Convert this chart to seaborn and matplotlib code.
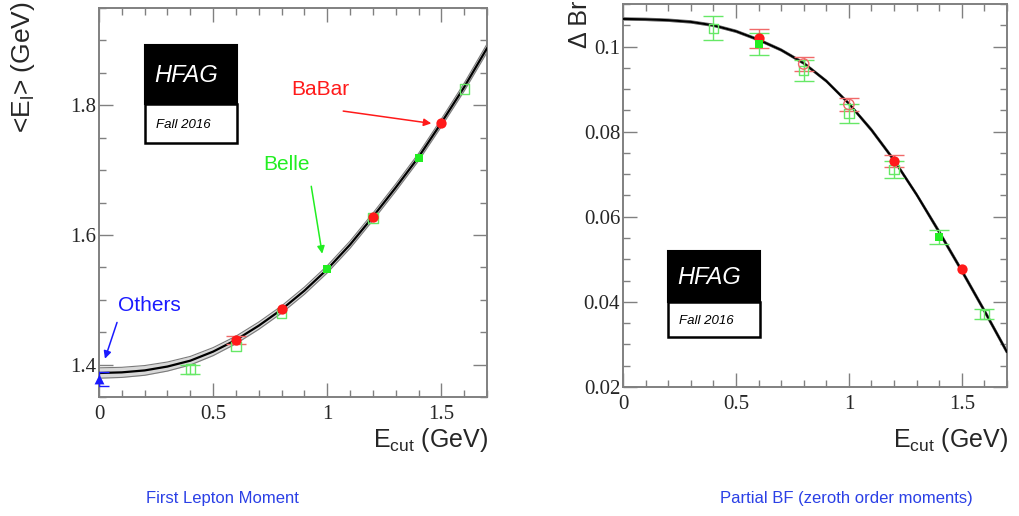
import matplotlib
matplotlib.use("Agg")
import matplotlib.pyplot as plt
from matplotlib.ticker import MultipleLocator, FormatStrFormatter
from matplotlib.patches import Rectangle
import seaborn as sns

# --- data: first lepton moment <E_l> vs E_cut ---
ecut_fit = [0.0, 0.1, 0.2, 0.3, 0.4, 0.5, 0.6, 0.7, 0.8, 0.9,
            1.0, 1.1, 1.2, 1.3, 1.4, 1.5, 1.6, 1.7]
e1_fit = [1.387, 1.388, 1.391, 1.397, 1.406, 1.420, 1.438, 1.460, 1.485, 1.514,
          1.547, 1.585, 1.628, 1.673, 1.720, 1.773, 1.828, 1.888]
e1_band = [0.0080, 0.0078, 0.0075, 0.0070, 0.0066, 0.0062, 0.0058, 0.0056, 0.0055, 0.0055,
           0.0055, 0.0055, 0.0055, 0.0055, 0.0056, 0.0058, 0.0060, 0.0064]

babar_e1_x = [0.6, 0.8, 1.2, 1.5]
babar_e1 = [1.438, 1.485, 1.628, 1.773]
babar_e1_err = [0.0065, 0.0, 0.0, 0.0]
belle_e1_x = [1.0, 1.4]
belle_e1 = [1.547, 1.719]
belle_open_e1_x = [0.4, 0.6, 0.8, 1.2, 1.6]
belle_open_e1 = [1.393, 1.428, 1.479, 1.626, 1.825]
belle_open_e1_err = [0.007, 0.0, 0.0, 0.0, 0.0]
others_e1_x = [0.0]
others_e1 = [1.378]
others_e1_err = [0.011]

# --- data: partial BF vs E_cut ---
dbr_fit = [0.1065, 0.1064, 0.1062, 0.1058, 0.1050, 0.1036, 0.1016, 0.0992, 0.0961, 0.0919,
           0.0866, 0.0804, 0.0733, 0.0652, 0.0564, 0.0473, 0.0379, 0.0282]
dbr_band = [0.0003, 0.0003, 0.0003, 0.0003, 0.0003, 0.0003, 0.0003, 0.0003, 0.0003, 0.0003,
            0.0003, 0.0004, 0.0004, 0.0004, 0.0005, 0.0005, 0.0005, 0.0005]

babar_dbr_x = [0.6, 1.2, 1.5]
babar_dbr = [0.1019, 0.0730, 0.0478]
babar_dbr_err = [0.0023, 0.0014, 0.0]
babar_open_dbr_x = [0.8, 1.0]
babar_open_dbr = [0.0959, 0.0864]
babar_open_dbr_err = [0.0016, 0.0016]
belle_dbr_x = [0.6, 1.4]
belle_dbr = [0.1006, 0.0552]
belle_dbr_err = [0.0027, 0.0016]
belle_open_dbr_x = [0.4, 0.8, 1.0, 1.2, 1.6]
belle_open_dbr = [0.1043, 0.0943, 0.0842, 0.0711, 0.0371]
belle_open_dbr_err = [0.0028, 0.0025, 0.0022, 0.0019, 0.0012]

xticks = [0, 0.5, 1, 1.5]
e1_yticks = [1.4, 1.6, 1.8]
dbr_yticks = [0.02, 0.04, 0.06, 0.08, 0.1]

RED = "#ff1a1a"
RED_ERR = "#f06a6a"
GREEN = "#22ee22"
GREEN_ERR = "#66e866"
BLUE = "#1a1aff"
CAPTION = "#2b40e6"
FRAME = "#808080"

sns.set_style("ticks")
plt.rcParams["font.family"] = ["Liberation Sans", "DejaVu Sans"]
plt.rcParams["mathtext.fontset"] = "custom"
plt.rcParams["mathtext.rm"] = "Liberation Sans"
plt.rcParams["mathtext.it"] = "Liberation Sans:italic"

W, H = 1020, 516
fig = plt.figure(figsize=(W / 100, H / 100), dpi=100)


def px(x, y):
    return x / W, 1 - y / H


def make_axes(x0, y0, x1, y1):
    ax = fig.add_axes([x0 / W, 1 - y1 / H, (x1 - x0) / W, (y1 - y0) / H])
    for s in ax.spines.values():
        s.set_color(FRAME)
        s.set_linewidth(1.4)
        s.set_visible(True)
    ax.tick_params(which="both", direction="in", top=True, right=True, color=FRAME,
                   width=1.0, labelsize=15, pad=2)
    ax.tick_params(which="major", length=10)
    ax.tick_params(which="minor", length=5)
    ax.tick_params(axis="x", pad=6)
    return ax


def finish_axes(ax, yticks, yminor, ylim):
    ax.set_xlim(0, 1.7)
    ax.set_ylim(*ylim)
    ax.set_xticks(xticks)
    ax.set_yticks(yticks)
    ax.xaxis.set_minor_locator(MultipleLocator(0.1))
    ax.yaxis.set_minor_locator(MultipleLocator(yminor))
    ax.xaxis.set_major_formatter(FormatStrFormatter("%g"))
    ax.yaxis.set_major_formatter(FormatStrFormatter("%g"))
    ax.set_xlabel("")
    ax.set_ylabel("")
    for lab in ax.get_xticklabels() + ax.get_yticklabels():
        lab.set_fontfamily("Liberation Serif")


def errbars(ax, x, y, err, color):
    # only the points whose error bars stick out of the marker
    keep = [i for i, e in enumerate(err) if e > 0]
    if keep:
        ax.errorbar([x[i] for i in keep], [y[i] for i in keep], yerr=[err[i] for i in keep],
                    fmt="none", ecolor=color, elinewidth=1, capsize=7, capthick=1, zorder=4)


def hfag_box(x0, y0, x1, ymid, y1):
    fig.patches.append(Rectangle(px(x0, ymid), (x1 - x0) / W, (ymid - y0) / H,
                                 transform=fig.transFigure, facecolor="black",
                                 edgecolor="black", lw=1.5, zorder=5))
    fig.patches.append(Rectangle(px(x0, y1), (x1 - x0) / W, (y1 - ymid) / H,
                                 transform=fig.transFigure, facecolor="white",
                                 edgecolor="black", lw=1.8, zorder=5))
    fig.text(*px(x0 + 9, (y0 + ymid) / 2 + 1), "HFAG", color="white", style="italic",
             fontsize=17, ha="left", va="center", zorder=6)
    fig.text(*px(x0 + 11, (ymid + y1) / 2 + 2), "Fall 2016", color="black", style="italic",
             fontsize=9.5, ha="left", va="center", zorder=6)


def pointer(ax, start, tip, color):
    ax.annotate("", xy=tip, xytext=start,
                arrowprops=dict(arrowstyle="-|>", color=color, lw=1.1, mutation_scale=11,
                                shrinkA=0, shrinkB=0))


# ---------------- left panel ----------------
ax1 = make_axes(99, 8, 487, 397)
lo = [v - b for v, b in zip(e1_fit, e1_band)]
hi = [v + b for v, b in zip(e1_fit, e1_band)]
ax1.fill_between(ecut_fit, lo, hi, color="#d8d8d8", lw=0, zorder=1)
sns.lineplot(x=ecut_fit, y=lo, ax=ax1, color="#7a7a7a", lw=0.8, zorder=2)
sns.lineplot(x=ecut_fit, y=hi, ax=ax1, color="#7a7a7a", lw=0.8, zorder=2)
sns.lineplot(x=ecut_fit, y=e1_fit, ax=ax1, color="black", lw=1.6, zorder=3)

errbars(ax1, babar_e1_x, babar_e1, babar_e1_err, RED_ERR)
errbars(ax1, belle_open_e1_x, belle_open_e1, belle_open_e1_err, GREEN_ERR)
errbars(ax1, others_e1_x, others_e1, others_e1_err, BLUE)
sns.scatterplot(x=belle_open_e1_x, y=belle_open_e1, ax=ax1, marker="s", s=45,
                color=GREEN_ERR, facecolor="none", edgecolor=GREEN_ERR, linewidth=1, zorder=5)
sns.scatterplot(x=babar_e1_x, y=babar_e1, ax=ax1, marker="o", s=55, color=RED,
                edgecolor=RED, linewidth=0, zorder=6)
sns.scatterplot(x=belle_e1_x, y=belle_e1, ax=ax1, marker="s", s=40, color=GREEN,
                edgecolor=GREEN, linewidth=0, zorder=6)
sns.scatterplot(x=others_e1_x, y=others_e1, ax=ax1, marker="^", s=50, color=BLUE,
                edgecolor=BLUE, linewidth=0, zorder=6, clip_on=False)
finish_axes(ax1, e1_yticks, 0.05, (1.35, 1.95))

ax1.text(0.97, 1.825, "BaBar", color=RED, fontsize=15, ha="center", va="center")
pointer(ax1, (1.07, 1.791), (1.456, 1.772), RED)
ax1.text(0.82, 1.709, "Belle", color=GREEN, fontsize=15, ha="center", va="center")
pointer(ax1, (0.93, 1.675), (0.978, 1.571), GREEN)
ax1.text(0.22, 1.491, "Others", color=BLUE, fontsize=15, ha="center", va="center")
pointer(ax1, (0.079, 1.465), (0.026, 1.409), BLUE)

fig.text(*px(23, 1), r"<E$_\mathrm{l}$> (GeV)", rotation=90, ha="center", va="top",
         fontsize=19)
fig.text(*px(488, 447), r"E$_\mathrm{cut}$ (GeV)", ha="right", va="baseline", fontsize=18)
hfag_box(145, 45, 237, 104, 143)

# ---------------- right panel ----------------
ax2 = make_axes(623, 4, 1007, 387)
lo2 = [v - b for v, b in zip(dbr_fit, dbr_band)]
hi2 = [v + b for v, b in zip(dbr_fit, dbr_band)]
ax2.fill_between(ecut_fit, lo2, hi2, color="#b0b0b0", lw=0, zorder=1)
sns.lineplot(x=ecut_fit, y=lo2, ax=ax2, color="#707070", lw=0.6, zorder=2)
sns.lineplot(x=ecut_fit, y=hi2, ax=ax2, color="#707070", lw=0.6, zorder=2)
sns.lineplot(x=ecut_fit, y=dbr_fit, ax=ax2, color="black", lw=1.5, zorder=3)

errbars(ax2, babar_dbr_x, babar_dbr, babar_dbr_err, RED_ERR)
errbars(ax2, babar_open_dbr_x, babar_open_dbr, babar_open_dbr_err, RED_ERR)
errbars(ax2, belle_dbr_x, belle_dbr, belle_dbr_err, GREEN_ERR)
errbars(ax2, belle_open_dbr_x, belle_open_dbr, belle_open_dbr_err, GREEN_ERR)
sns.scatterplot(x=belle_open_dbr_x, y=belle_open_dbr, ax=ax2, marker="s", s=45,
                color=GREEN_ERR, facecolor="none", edgecolor=GREEN_ERR, linewidth=1, zorder=5)
sns.scatterplot(x=babar_open_dbr_x, y=babar_open_dbr, ax=ax2, marker="o", s=55,
                color=RED_ERR, facecolor="none", edgecolor=RED_ERR, linewidth=1, zorder=5)
sns.scatterplot(x=babar_dbr_x, y=babar_dbr, ax=ax2, marker="o", s=55, color=RED,
                edgecolor=RED, linewidth=0, zorder=6)
sns.scatterplot(x=belle_dbr_x, y=belle_dbr, ax=ax2, marker="s", s=40, color=GREEN,
                edgecolor=GREEN, linewidth=0, zorder=6)
finish_axes(ax2, dbr_yticks, 0.005, (0.02, 0.11))

fig.text(*px(580, 1), "Δ Br", rotation=90, ha="center", va="top", fontsize=18)
fig.text(*px(1008, 447), r"E$_\mathrm{cut}$ (GeV)", ha="right", va="baseline", fontsize=18)
hfag_box(668, 251, 760, 302, 337)

# captions
fig.text(*px(222, 498), "First Lepton Moment", color=CAPTION, fontsize=12,
         ha="center", va="center")
fig.text(*px(846, 498), "Partial BF (zeroth order moments)", color=CAPTION, fontsize=12,
         ha="center", va="center")

fig.savefig("out.png", dpi=100, facecolor="white")
